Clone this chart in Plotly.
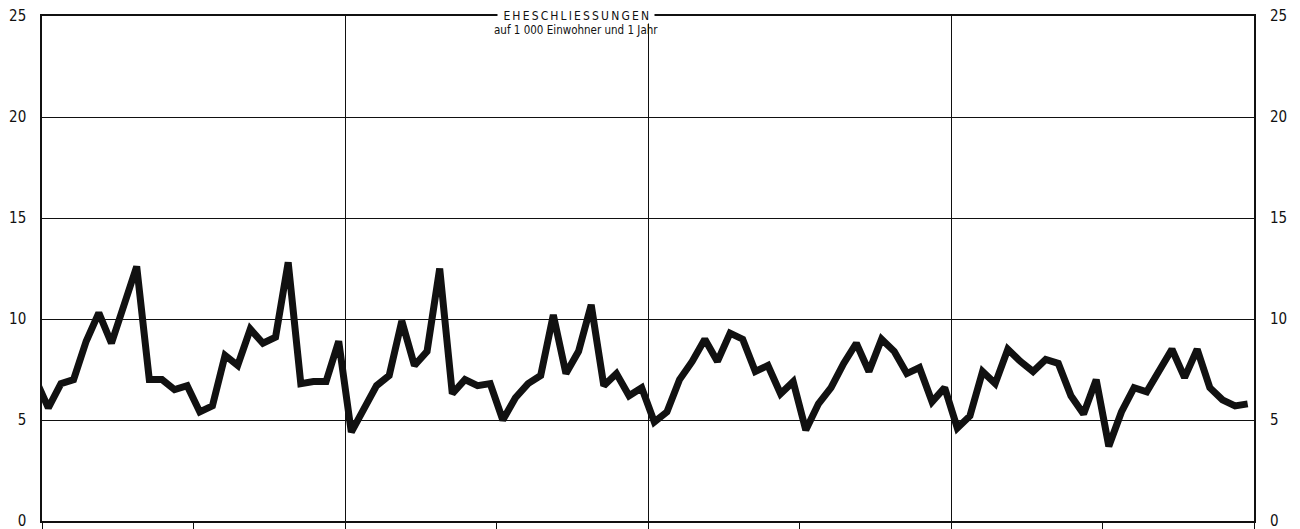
import plotly.graph_objects as go

# Monthly marriage rate per 1000 inhabitants and year (8 years, 96 months)
prev_month_rate = 7.0  # month before the first shown (line enters from the left edge)
rates = [
    5.6, 6.8, 7.0, 8.9, 10.3, 8.8, 10.7, 12.6, 7.0, 7.0, 6.5, 6.7,
    5.4, 5.7, 8.2, 7.7, 9.5, 8.8, 9.1, 12.8, 6.8, 6.9, 6.9, 8.9,
    4.4, 5.6, 6.7, 7.2, 9.9, 7.7, 8.4, 12.5, 6.3, 7.0, 6.7, 6.8,
    5.0, 6.1, 6.8, 7.2, 10.2, 7.3, 8.4, 10.7, 6.7, 7.3, 6.2, 6.6,
    4.9, 5.4, 7.0, 7.9, 9.0, 7.9, 9.3, 9.0, 7.4, 7.7, 6.3, 6.9,
    4.5, 5.8, 6.6, 7.8, 8.8, 7.4, 9.0, 8.4, 7.3, 7.6, 5.9, 6.6,
    4.6, 5.2, 7.4, 6.8, 8.5, 7.9, 7.4, 8.0, 7.8, 6.2, 5.3, 7.0,
    3.7, 5.4, 6.6, 6.4, 7.4, 8.5, 7.1, 8.5, 6.6, 6.0, 5.7, 5.8,
]
y_ticks = [0, 5, 10, 15, 20, 25]
major_x = [0, 24, 48, 72, 96]      # every two years
minor_x = [12, 36, 60, 84]         # year marks
title_text = "\u2009".join("EHESCHLIESSUNGEN")
subtitle_text = "auf 1 000 Einwohner und 1 Jahr"

values = [prev_month_rate] + rates
x = [i - 0.5 for i in range(len(values))]  # month midpoints; first one is clipped

FONT = "DejaVu Sans Condensed, DejaVu Sans, sans-serif"
INK = "#111111"

fig = go.Figure()
fig.add_trace(go.Scatter(
    x=x, y=values, mode="lines",
    line=dict(color=INK, width=7),
    hoverinfo="skip", showlegend=False,
))
# invisible trace for right-hand axis
fig.add_trace(go.Scatter(x=[x[1]], y=[values[1]], yaxis="y2", mode="markers",
                         marker=dict(opacity=0), hoverinfo="skip", showlegend=False))

fig.update_layout(
    width=1300, height=529,
    margin=dict(l=42, r=46, t=16, b=8, autoexpand=False),
    paper_bgcolor="white", plot_bgcolor="white",
    xaxis=dict(
        range=[0, 96], tickmode="array", tickvals=major_x, automargin=False,
        showticklabels=False, showgrid=True, gridcolor=INK, gridwidth=1,
        ticks="outside", ticklen=8, tickwidth=1, tickcolor=INK,
        minor=dict(tickmode="array", tickvals=minor_x, ticks="outside",
                   ticklen=8, tickwidth=1, tickcolor=INK, showgrid=False),
        showline=True, linecolor=INK, linewidth=2, mirror=True,
        zeroline=False,
    ),
    yaxis=dict(
        range=[0, 25], tickmode="array", tickvals=y_ticks, automargin=False,
        showgrid=True, gridcolor=INK, gridwidth=1, zeroline=False,
        ticks="", ticklabelstandoff=11, ticklabeloverflow="allow",
        tickfont=dict(family=FONT, size=15, color=INK),
        showline=True, linecolor=INK, linewidth=1.5, mirror=True,
    ),
    yaxis2=dict(
        range=[0, 25], tickmode="array", tickvals=y_ticks, automargin=False,
        overlaying="y", side="right", showgrid=False, zeroline=False,
        ticks="", ticklabelstandoff=15, ticklabeloverflow="allow",
        tickfont=dict(family=FONT, size=15, color=INK),
    ),
    annotations=[
        dict(xref="paper", yref="paper", x=0.441, y=1.0, yanchor="middle",
             text="\u2002" + title_text + "\u2002", showarrow=False, bgcolor="white",
             borderpad=0, font=dict(family=FONT, size=12, color=INK)),
        dict(xref="paper", yref="paper", x=0.441, y=0.972, yanchor="middle",
             text=subtitle_text, showarrow=False,
             font=dict(family=FONT, size=11.5, color=INK)),
    ],
)

post = """
document.body.style.margin = '0';
document.body.style.padding = '0';
"""
fig.write_html("out.html", post_script=post, config={"displayModeBar": False})
